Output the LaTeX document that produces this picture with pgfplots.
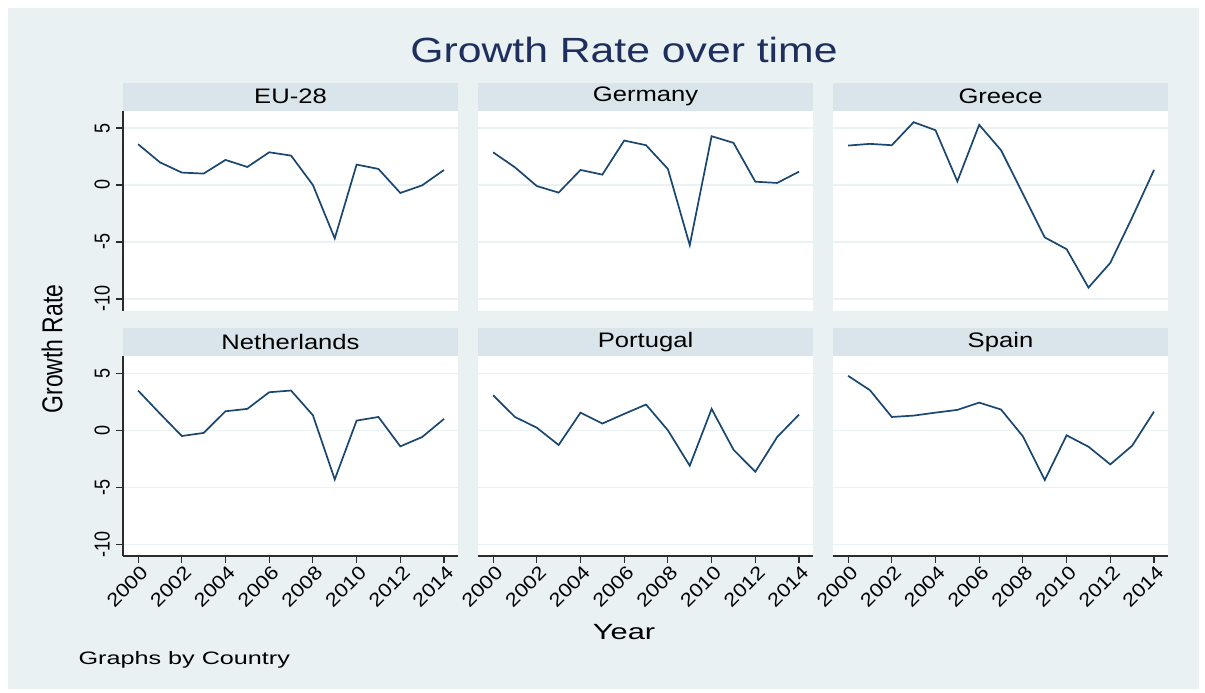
\documentclass[border=0pt]{standalone}
\usepackage{pgfplots}
\pgfplotsset{compat=1.18}
\usepackage{fontspec}
\setmainfont{Liberation Sans}[FakeStretch=1.22]
\newfontfamily\widefont{Liberation Sans}[FakeStretch=1.4]
\newfontfamily\plainfont{Liberation Sans}
\newfontfamily\tickfont{Liberation Sans}[FakeStretch=1.15]
\definecolor{bgcol}{HTML}{EAF1F3}
\definecolor{stripcol}{HTML}{D9E5EA}
\definecolor{gridcol}{HTML}{EAF2F3}
\definecolor{linecol}{HTML}{1A476F}
\definecolor{titlecol}{HTML}{1E2F5E}
\definecolor{axiscol}{HTML}{2B2B2B}

\pgfplotstableread{
year eu de gr nl pt es
2000 3.58 2.87 3.46 3.49 3.08 4.78
2001 1.99 1.55 3.61 1.47 1.17 3.52
2002 1.09 -0.09 3.49 -0.50 0.23 1.17
2003 1.00 -0.67 5.51 -0.23 -1.29 1.29
2004 2.20 1.32 4.81 1.67 1.55 1.55
2005 1.58 0.91 0.32 1.88 0.59 1.79
2006 2.87 3.90 5.28 3.34 1.44 2.43
2007 2.58 3.49 3.05 3.49 2.26 1.82
2008 0.00 1.41 -0.78 1.32 0.00 -0.53
2009 -4.69 -5.28 -4.60 -4.31 -3.11 -4.37
2010 1.79 4.28 -5.63 0.85 1.88 -0.44
2011 1.41 3.70 -9.00 1.17 -1.70 -1.44
2012 -0.70 0.29 -6.83 -1.41 -3.64 -2.99
2013 -0.03 0.18 -2.85 -0.59 -0.59 -1.35
2014 1.32 1.17 1.32 1.00 1.38 1.64
}\datatable

\pgfplotsset{
  panel/.style={
    anchor=south west,
    scale only axis, width=335pt, height=200pt,
    xmin=1999.31, xmax=2014.64, ymin=-11.03, ymax=6.52,
    xtick={2000,2002,...,2014}, ytick={-10,-5,0,5},
    axis background/.style={fill=white},
    ymajorgrids, major grid style={draw=gridcol, line width=1.2pt},
    axis lines*=left,
    axis line style={-, draw=axiscol, line width=1.2pt},
    tick align=outside,
    major tick length=7pt,
    tick style={draw=axiscol, line width=1.1pt},
    xticklabel style={font=\tickfont\fontsize{19}{19}\selectfont, rotate=45, anchor=north east, inner sep=1pt, xshift=1pt, yshift=-1pt},
    yticklabel style={font=\plainfont\fontsize{18}{18}\selectfont, rotate=90, anchor=south, inner sep=6pt},
    /pgf/number format/1000 sep={},
    /pgf/number format/assume math mode=true,
    clip=false,
  },
  ylab/.style={yticklabel={\scalebox{1}[1.2]{\pgfmathprintnumber{\tick}}}},
  nolabx/.style={xticklabels={}, xtick style={draw=none}, x axis line style={draw=none}},
  noly/.style={yticklabels={}, ytick style={draw=none}, y axis line style={draw=none}},
  ln/.style={linecol, line width=1.7pt, mark=none},
}
\newcommand{\strip}[1]{%
  \fill[stripcol] (rel axis cs:0,1) rectangle ([yshift=28pt]rel axis cs:1,1);
  \node[font=\fontsize{21}{21}\selectfont, text=black] at ([yshift=14pt]rel axis cs:0.5,1) {#1};}

\begin{document}
\begin{tikzpicture}
\useasboundingbox (0pt,0pt) rectangle (1205pt,693pt);
\fill[white] (0pt,0pt) rectangle (1205pt,693pt);
\fill[bgcol] (8pt,4pt) rectangle (1199pt,685pt);

% top row
\begin{axis}[panel, ylab, nolabx, at={(123pt,382.3pt)}]
\strip{EU-28}
\addplot[ln] table[x=year, y=eu] {\datatable};
\end{axis}
\begin{axis}[panel, nolabx, noly, at={(478pt,382.3pt)}]
\strip{Germany}
\addplot[ln] table[x=year, y=de] {\datatable};
\end{axis}
\begin{axis}[panel, nolabx, noly, at={(833pt,382.3pt)}]
\strip{Greece}
\addplot[ln] table[x=year, y=gr] {\datatable};
\end{axis}

% bottom row
\begin{axis}[panel, ylab, at={(123pt,137pt)}]
\strip{Netherlands}
\addplot[ln] table[x=year, y=nl] {\datatable};
\end{axis}
\begin{axis}[panel, noly, at={(478pt,137pt)}]
\strip{Portugal}
\addplot[ln] table[x=year, y=pt] {\datatable};
\end{axis}
\begin{axis}[panel, noly, at={(833pt,137pt)}]
\strip{Spain}
\addplot[ln] table[x=year, y=es] {\datatable};
\end{axis}

\node[font=\fontsize{35}{35}\selectfont, text=titlecol, anchor=base] at (624pt,630pt) {Growth Rate over time};
\node[font=\plainfont\fontsize{23}{23}\selectfont, rotate=90, anchor=center] at (52pt,344pt) {\scalebox{1}[1.25]{Growth Rate}};
\node[font=\widefont\fontsize{22}{22}\selectfont, anchor=base] at (624pt,53pt) {Year};
\node[font=\widefont\fontsize{18}{18}\selectfont, anchor=base west] at (75pt,28pt) {Graphs by Country};
\end{tikzpicture}
\end{document}
